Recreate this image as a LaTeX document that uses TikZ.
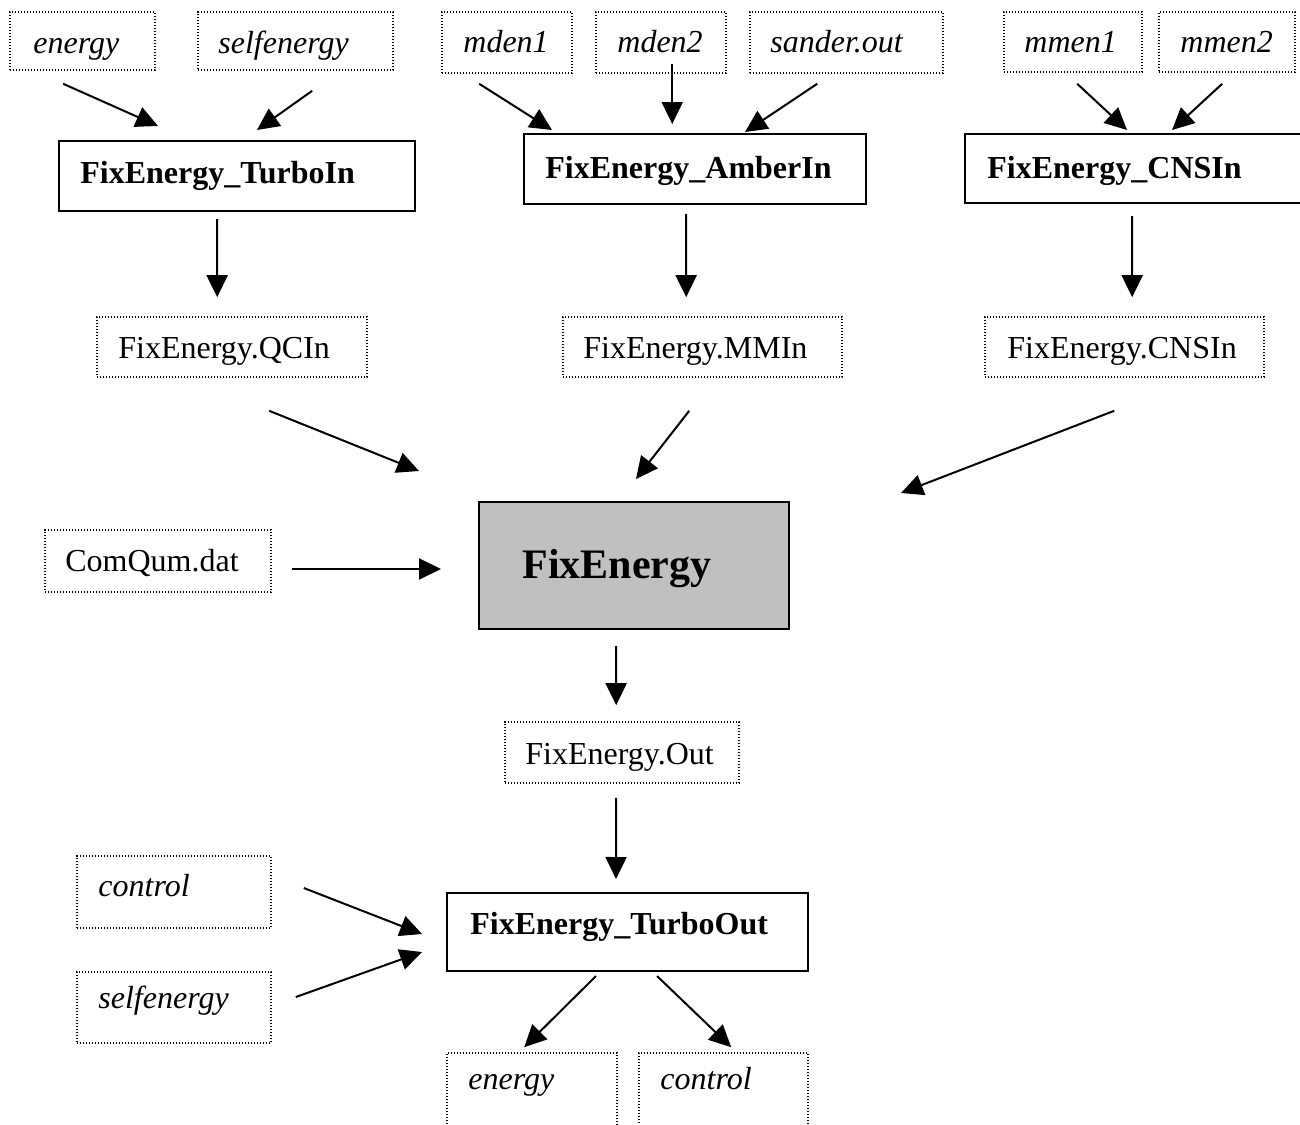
\documentclass[tikz,border=0pt]{standalone}
\usepackage{fontspec}
\setmainfont{Liberation Serif}
\usetikzlibrary{fit,arrows.meta}
\definecolor{boxgray}{HTML}{C0C0C0}
\begin{document}
\begin{tikzpicture}[x=0.5pt,y=-0.5pt,
  dbox/.style={draw,line width=0.8pt,dash pattern=on 0.7pt off 0.8pt,inner sep=0pt},
  sbox/.style={draw,line width=1pt,inner sep=0pt},
  txt/.style={anchor=base west,inner sep=0pt,font=\fontsize{16pt}{19pt}\selectfont},
  itxt/.style={txt,font=\fontsize{16pt}{19pt}\selectfont\itshape},
  btxt/.style={txt,font=\fontsize{16pt}{19pt}\selectfont\bfseries},
  arr/.style={line width=1pt,-{Triangle[length=11pt,width=10.5pt]}}]
\useasboundingbox (0,0) rectangle (1300,1124);
\clip (0,0) rectangle (1300,1124);
% top inputs
\node[dbox,fit={(10,12) (155,70)}] (energy) {};
\node[itxt] (energyt) at (33,53) {energy};
\node[dbox,fit={(198,12) (393,70)}] (selfenergy) {};
\node[itxt] (selfenergyt) at (218,53) {selfenergy};
\node[dbox,fit={(442,12) (572,73)}] (mden1) {};
\node[itxt] (mden1t) at (463,52) {mden1};
\node[dbox,fit={(596,12) (726,73)}] (mden2) {};
\node[itxt] (mden2t) at (617,52) {mden2};
\node[dbox,fit={(750,12) (943,73)}] (sanderout) {};
\node[itxt] (sanderoutt) at (770,52) {sander.out};
\node[dbox,fit={(1004,12) (1142,72)}] (mmen1) {};
\node[itxt] (mmen1t) at (1024,52) {mmen1};
\node[dbox,fit={(1159,12) (1295,72)}] (mmen2) {};
\node[itxt] (mmen2t) at (1180,52) {mmen2};
% programs
\node[sbox,fit={(59,141) (415,211)}] (turboin) {};
\node[btxt] (turboint) at (80,183) {FixEnergy\_TurboIn};
\node[sbox,fit={(524,134) (866,204)}] (amberin) {};
\node[btxt] (amberint) at (545,178) {FixEnergy\_AmberIn};
\node[sbox,fit={(965,134) (1330,203)}] (cnsin) {};
\node[btxt] (cnsint) at (987,178) {FixEnergy\_CNSIn};
% intermediate files
\node[dbox,fit={(97,317) (367,377)}] (qcin) {};
\node[txt] (qcint) at (118,358) {FixEnergy.QCIn};
\node[dbox,fit={(563,317) (842,377)}] (mmin) {};
\node[txt] (mmint) at (583,358) {FixEnergy.MMIn};
\node[dbox,fit={(985,317) (1264,377)}] (cnsinf) {};
\node[txt] (cnsinft) at (1007,358) {FixEnergy.CNSIn};
\node[dbox,fit={(45,530) (271,592)}] (comqum) {};
\node[txt] (comqumt) at (65,571) {ComQum.dat};
% main
\node[sbox,fill=boxgray,fit={(479,502) (789,629)}] (fix) {};
\node[txt,font=\fontsize{21pt}{25pt}\selectfont\bfseries] (fixt) at (522,578) {FixEnergy};
\node[dbox,fit={(505,722) (739,783)}] (out) {};
\node[txt] (outt) at (525,764) {FixEnergy.Out};
\node[sbox,fit={(447,893) (808,971)}] (turboout) {};
\node[btxt] (turbooutt) at (470,934) {FixEnergy\_TurboOut};
\node[dbox,fit={(77,856) (271,928)}] (ctrl) {};
\node[itxt] (ctrlt) at (98,896) {control};
\node[dbox,fit={(77,972) (271,1043)}] (self2) {};
\node[itxt] (self2t) at (98,1008) {selfenergy};
\node[dbox,fit={(447,1053) (617,1150)}] (eout) {};
\node[itxt] (eoutt) at (468,1089) {energy};
\node[dbox,fit={(639,1053) (808,1150)}] (cout) {};
\node[itxt] (coutt) at (660,1089) {control};
% arrows
\draw[arr] ([shift={(54,13)}]energy.south west) -- ([shift={(100,-14)}]turboin.north west);
\draw[arr] ([shift={(115,20)}]selfenergy.south west) -- ([shift={(199,-10)}]turboin.north west);
\draw[arr] ([shift={(38,10)}]mden1.south west) -- ([shift={(29,-3)}]amberin.north west);
\draw[arr] ([shift={(77,-10)}]mden2.south west) -- ([shift={(77,-9)}]mden2.south west |- amberin.north);
\draw[arr] ([shift={(68,10)}]sanderout.south west) -- ([shift={(222,-1)}]amberin.north west);
\draw[arr] ([shift={(74,11)}]mmen1.south west) -- ([shift={(163,-3)}]cnsin.north west);
\draw[arr] ([shift={(64,11)}]mmen2.south west) -- ([shift={(208,-3)}]cnsin.north west);
\draw[arr] ([shift={(159,7)}]turboin.south west) -- ([shift={(121,-19)}]qcin.north west);
\draw[arr] ([shift={(163,9)}]amberin.south west) -- ([shift={(124,-19)}]mmin.north west);
\draw[arr] ([shift={(168,12)}]cnsin.south west) -- ([shift={(148,-19)}]cnsinf.north west);
\draw[arr] ([shift={(173,33)}]qcin.south west) -- ([shift={(-59,-30)}]fix.north west);
\draw[arr] ([shift={(127,33)}]mmin.south west) -- ([shift={(158,-22)}]fix.north west);
\draw[arr] ([shift={(130,33)}]cnsinf.south west) -- ([shift={(423,-8)}]fix.north west);
\draw[arr] ([shift={(20,8)}]comqum.east) -- ([shift={(-37,3.5)}]fix.west);
\draw[arr] ([shift={(138,16)}]fix.south west) -- ([shift={(112,-16)}]out.north west);
\draw[arr] ([shift={(112,14)}]out.south west) -- ([shift={(170,-13)}]turboout.north west);
\draw[arr] ([shift={(32,-4)}]ctrl.east) -- ([shift={(-24,2)}]turboout.west);
\draw[arr] ([shift={(24,-10.5)}]self2.east) -- ([shift={(-24,20)}]turboout.west);
\draw[arr] ([shift={(150,4)}]turboout.south west) -- ([shift={(78,-5)}]eout.north west);
\draw[arr] ([shift={(211,4)}]turboout.south west) -- ([shift={(93,-5)}]cout.north west);
\end{tikzpicture}
\end{document}
